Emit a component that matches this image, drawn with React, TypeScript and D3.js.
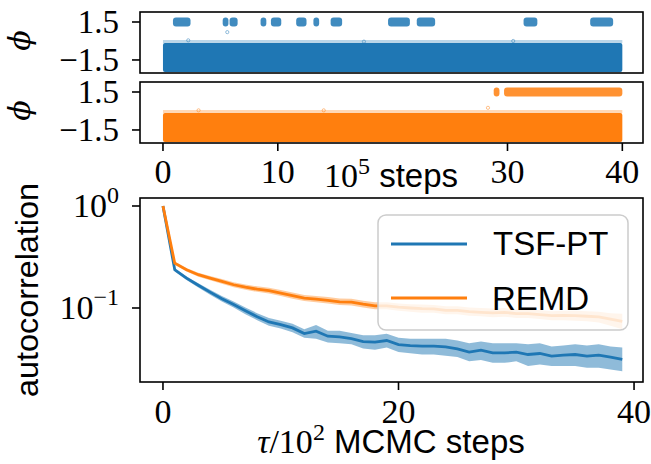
import React from "react";
import * as d3 from "d3";

// ---------- data ----------
const lags = d3.range(0, 40);
const tsfMean = [1.0, 0.237, 0.196, 0.167, 0.143, 0.123, 0.108, 0.094, 0.082, 0.073, 0.0688, 0.0638, 0.0561, 0.0592, 0.0529, 0.0521, 0.0501, 0.0469, 0.0462, 0.048, 0.0438, 0.0428, 0.0422, 0.0422, 0.0416, 0.0397, 0.0369, 0.0386, 0.0363, 0.0363, 0.0369, 0.035, 0.0358, 0.0337, 0.0345, 0.035, 0.0337, 0.0345, 0.033, 0.0313];
const tsfLow = [1.0, 0.228, 0.188, 0.159, 0.135, 0.116, 0.101, 0.087, 0.076, 0.067, 0.063, 0.058, 0.051, 0.05, 0.046, 0.045, 0.044, 0.04, 0.039, 0.041, 0.037, 0.036, 0.035, 0.035, 0.034, 0.033, 0.03, 0.031, 0.029, 0.029, 0.03, 0.027, 0.028, 0.027, 0.027, 0.027, 0.026, 0.026, 0.025, 0.024];
const tsfHigh = [1.0, 0.246, 0.204, 0.175, 0.151, 0.131, 0.116, 0.101, 0.089, 0.08, 0.075, 0.07, 0.062, 0.068, 0.06, 0.06, 0.057, 0.054, 0.054, 0.056, 0.051, 0.05, 0.05, 0.05, 0.05, 0.048, 0.045, 0.047, 0.045, 0.045, 0.045, 0.044, 0.045, 0.042, 0.043, 0.044, 0.043, 0.044, 0.042, 0.041];
const remdMean = [1.0, 0.275, 0.237, 0.212, 0.196, 0.182, 0.169, 0.16, 0.153, 0.148, 0.14, 0.132, 0.125, 0.122, 0.119, 0.115, 0.114, 0.109, 0.105, 0.105, 0.102, 0.1, 0.0985, 0.098, 0.0948, 0.0948, 0.092, 0.0907, 0.0894, 0.0907, 0.088, 0.088, 0.086, 0.084, 0.0847, 0.084, 0.083, 0.0817, 0.078, 0.074];
const remdLow = [1.0, 0.265, 0.228, 0.203, 0.187, 0.173, 0.16, 0.151, 0.144, 0.139, 0.131, 0.123, 0.117, 0.114, 0.111, 0.107, 0.106, 0.101, 0.097, 0.097, 0.094, 0.092, 0.09, 0.09, 0.087, 0.087, 0.084, 0.083, 0.081, 0.082, 0.08, 0.08, 0.078, 0.076, 0.076, 0.075, 0.074, 0.072, 0.067, 0.062];
const remdHigh = [1.0, 0.285, 0.246, 0.222, 0.206, 0.192, 0.179, 0.17, 0.163, 0.158, 0.15, 0.142, 0.134, 0.131, 0.128, 0.124, 0.123, 0.118, 0.114, 0.114, 0.111, 0.109, 0.108, 0.107, 0.104, 0.104, 0.101, 0.1, 0.099, 0.1, 0.097, 0.097, 0.095, 0.093, 0.094, 0.094, 0.093, 0.092, 0.089, 0.088];

// trajectory summaries (time in 1e5 steps, phi in rad)
const basinLow = -2.45;
const basinHigh = -0.16;
const upperLow = 1.15;
const upperHigh = 1.85;
const tsfVisits = [[0.87, 2.4], [5.2, 5.7], [5.8, 6.5], [8.5, 9.0], [9.4, 10.3], [11.6, 12.5], [13.1, 13.6], [14.6, 15.6], [19.6, 21.5], [22.1, 23.7], [31.4, 32.6], [37.2, 39.2]];
const remdVisits = [[28.8, 29.3], [29.7, 40]];
const tsfOutliers = [[5.6, 0.7], [17.5, -0.05], [2.2, 0.05], [30.5, 0.0]];
const remdOutliers = [[28.3, 0.25], [3.1, 0.05], [14.0, 0.05]];

const topXTicks = [0, 10, 30, 40];
const phiTicks = [1.5, -1.5];
const botXTicks = [0, 20, 40];
const botYTicks = [{ v: 1, exp: "0" }, { v: 0.1, exp: "\u22121" }];

const BLUE = "#1f77b4";
const ORANGE = "#ff7f0e";
const SERIF = "'Liberation Serif', 'DejaVu Serif', serif";
const SANS = "'Liberation Sans', Arial, sans-serif";

const L = 140, R = 643;
const p1 = { top: 12, bottom: 73 };
const p2 = { top: 82, bottom: 143 };
const p3 = { top: 198, bottom: 382 };

export default function App() {
  const xTop = d3.scaleLinear().domain([-2, 41.8]).range([L, R]);
  const y1 = d3.scaleLinear().domain([-2.53, 2.29]).range([p1.bottom, p1.top]);
  const y2 = d3.scaleLinear().domain([-2.53, 2.29]).range([p2.bottom, p2.top]);
  const xBot = d3.scaleLinear().domain([-1.95, 40.76]).range([L, R]);
  const yBot = d3.scaleLog().domain([Math.pow(10, -1.7255), Math.pow(10, 0.0784)]).range([p3.bottom, p3.top]);

  const line = (arr: number[]) =>
    d3.line<number>().x((_, i) => xBot(lags[i])).y((v) => yBot(v))(arr) || "";
  const area = (lo: number[], hi: number[]) =>
    d3.area<number>().x((_, i) => xBot(lags[i])).y0((_, i) => yBot(lo[i])).y1((_, i) => yBot(hi[i]))(lo) || "";

  const trace = (y: d3.ScaleLinear<number, number>, visits: number[][], outs: number[][], color: string, key: string) => (
    <g key={key}>
      <rect x={xTop(0)} y={y(basinHigh) - 3} width={xTop(40) - xTop(0)} height={3} fill={color} opacity={0.3} />
      <rect x={xTop(0)} y={y(basinHigh)} width={xTop(40) - xTop(0)} height={y(basinLow) - y(basinHigh)} fill={color} rx={2} />
      {visits.map((v, i) => (
        <rect key={i} x={xTop(v[0])} y={y(upperHigh)} width={xTop(v[1]) - xTop(v[0])} height={y(upperLow) - y(upperHigh)} fill={color} opacity={0.85} rx={3} />
      ))}
      {outs.map((o, i) => (
        <circle key={"o" + i} cx={xTop(o[0])} cy={y(o[1])} r={1.6} fill="none" stroke={color} strokeOpacity={0.6} strokeWidth={0.8} />
      ))}
    </g>
  );

  const phiAxis = (y: d3.ScaleLinear<number, number>, p: { top: number; bottom: number }, key: string) => (
    <g key={key}>
      {phiTicks.map((t) => (
        <g key={t}>
          <line x1={L - 8} x2={L} y1={y(t)} y2={y(t)} stroke="#000" strokeWidth={1.6} />
          <text x={119} y={y(t) + 11} textAnchor="end" fontFamily={SERIF} fontSize={33}>
            {t < 0 ? "\u2212" + Math.abs(t).toFixed(1) : t.toFixed(1)}
          </text>
        </g>
      ))}
      <text transform={`translate(30,${(p.top + p.bottom) / 2 - 2}) rotate(-90)`} textAnchor="middle" fontFamily="'DejaVu Serif', serif" fontStyle="italic" fontSize={30}>
        {"\u03D5"}
      </text>
      <rect x={L} y={p.top} width={R - L} height={p.bottom - p.top} fill="none" stroke="#000" strokeWidth={1.6} />
    </g>
  );

  return (
    <svg width={651} height={464} style={{ position: "absolute", left: 0, top: 0, background: "#fff" }}>
      <rect x={0} y={0} width={651} height={464} fill="#fff" />
      {trace(y1, tsfVisits, tsfOutliers, BLUE, "t1")}
      {phiAxis(y1, p1, "a1")}
      {trace(y2, remdVisits, remdOutliers, ORANGE, "t2")}
      {phiAxis(y2, p2, "a2")}
      {topXTicks.map((t) => (
        <g key={t}>
          <line x1={xTop(t)} x2={xTop(t)} y1={p2.bottom} y2={p2.bottom + 8} stroke="#000" strokeWidth={1.6} />
          <text x={xTop(t)} y={183} textAnchor="middle" fontFamily={SERIF} fontSize={34}>{t}</text>
        </g>
      ))}
      <text x={391} y={187} textAnchor="middle">
        <tspan fontFamily={SERIF} fontSize={34}>10</tspan>
        <tspan fontFamily={SERIF} fontSize={24} dy={-13}>5</tspan>
        <tspan fontFamily={SANS} fontSize={33} dy={13}>{" steps"}</tspan>
      </text>

      <defs>
        <clipPath id="c3">
          <rect x={L} y={p3.top} width={R - L} height={p3.bottom - p3.top} />
        </clipPath>
      </defs>
      <g clipPath="url(#c3)">
        <path d={area(tsfLow, tsfHigh)} fill={BLUE} opacity={0.5} />
        <path d={line(tsfMean)} fill="none" stroke={BLUE} strokeWidth={2.8} />
        <path d={area(remdLow, remdHigh)} fill={ORANGE} opacity={0.4} />
        <path d={line(remdMean)} fill="none" stroke={ORANGE} strokeWidth={2.8} />
      </g>
      {botXTicks.map((t) => (
        <g key={t}>
          <line x1={xBot(t)} x2={xBot(t)} y1={p3.bottom} y2={p3.bottom + 8} stroke="#000" strokeWidth={1.6} />
          <text x={xBot(t)} y={423} textAnchor="middle" fontFamily={SERIF} fontSize={34}>{t}</text>
        </g>
      ))}
      {botYTicks.map((t) => (
        <g key={t.exp}>
          <line x1={L - 8} x2={L} y1={yBot(t.v)} y2={yBot(t.v)} stroke="#000" strokeWidth={1.6} />
          <text x={119} y={yBot(t.v) + 11} textAnchor="end">
            <tspan fontFamily={SERIF} fontSize={34}>10</tspan>
            <tspan fontFamily={SERIF} fontSize={24} dy={-14}>{t.exp}</tspan>
          </text>
        </g>
      ))}
      <text transform={`translate(38,290) rotate(-90)`} textAnchor="middle" fontFamily={SANS} fontSize={32} textLength={214} lengthAdjust="spacingAndGlyphs">
        autocorrelation
      </text>
      <text x={391} y={453} textAnchor="middle">
        <tspan fontFamily={SERIF} fontStyle="italic" fontSize={34}>{"\u03C4"}</tspan>
        <tspan fontFamily={SERIF} fontSize={34}>/10</tspan>
        <tspan fontFamily={SERIF} fontSize={24} dy={-13}>2</tspan>
        <tspan fontFamily={SANS} fontSize={33} dy={13}>{" MCMC steps"}</tspan>
      </text>

      <rect x={378} y={215} width={250} height={115} rx={8} fill="#fff" fillOpacity={0.8} stroke="#cccccc" strokeWidth={1.5} />
      <line x1={391} x2={467} y1={244} y2={244} stroke={BLUE} strokeWidth={2.8} />
      <text x={493} y={255} fontFamily={SANS} fontSize={33}>TSF-PT</text>
      <line x1={391} x2={467} y1={298} y2={298} stroke={ORANGE} strokeWidth={2.8} />
      <text x={492} y={310} fontFamily={SANS} fontSize={33}>REMD</text>

      <rect x={L} y={p3.top} width={R - L} height={p3.bottom - p3.top} fill="none" stroke="#000" strokeWidth={1.6} />
    </svg>
  );
}
